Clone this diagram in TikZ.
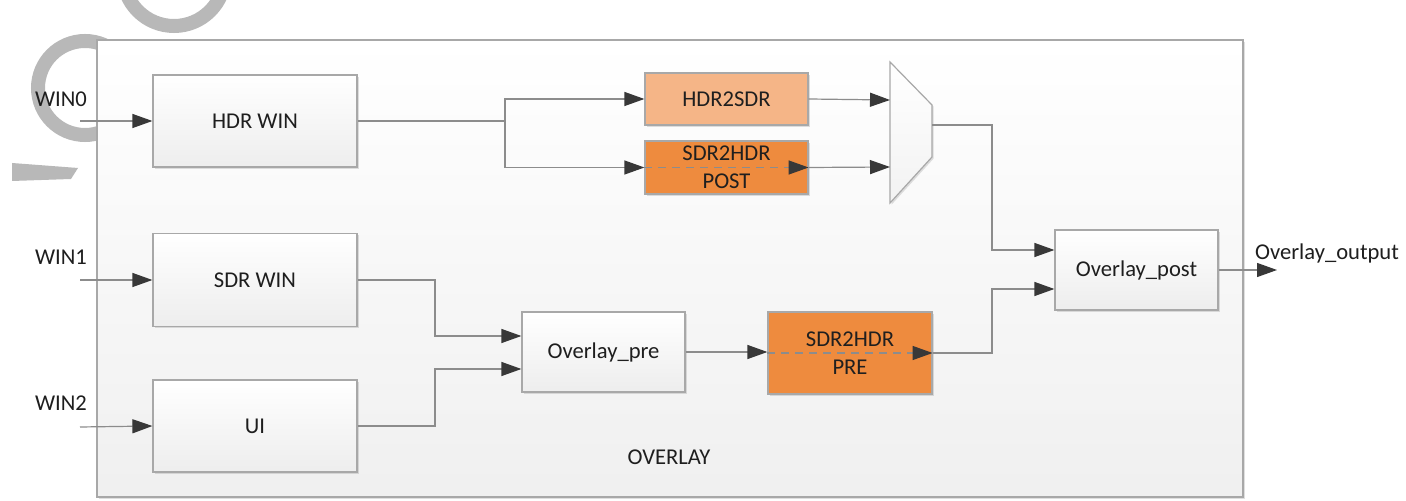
\documentclass[tikz,border=0pt]{standalone}
\usepackage{fontspec}
\setmainfont{Carlito}
\usetikzlibrary{arrows.meta,shadows,calc}
\definecolor{wirec}{HTML}{8C8C8C}
\definecolor{tipc}{HTML}{383838}
\definecolor{edgec}{HTML}{A8A8A8}
\definecolor{txtc}{HTML}{1E1E1E}
\definecolor{orLight}{HTML}{F5B587}
\definecolor{orDark}{HTML}{EE8B3E}
\definecolor{markc}{HTML}{B8B8B8}
\begin{document}
\begin{tikzpicture}[x=0.5pt,y=-0.5pt,
  font=\fontsize{11.3}{13}\selectfont,
  blockbox/.style={draw=edgec, line width=0.6pt, top color=white, bottom color=black!7,
    text=txtc, inner sep=0pt, align=center,
    drop shadow={shadow xshift=0.8pt, shadow yshift=-0.8pt, opacity=0.25}},
  hotbox/.style={blockbox, top color=#1, bottom color=#1, text=black!88},
  wire/.style={draw=wirec, line width=0.6pt},
  flow/.style={wire, -{Triangle[length=10pt,width=7pt,color=tipc]}},
  passthru/.style={flow, dash pattern=on 4pt off 3pt},
  lbl/.style={text=txtc, inner sep=0pt}]
\useasboundingbox (0,0) rectangle (1406,501);
\clip (0,0) rectangle (1406,501);
\fill[white] (0,0) rectangle (1406,501);

% faint logo strokes behind the frame
\draw[markc, line width=7pt] (85,88) circle (47);
\draw[markc, line width=7pt] (174,-25) circle (51);
\fill[markc] (12,163) -- (78,168) -- (71,179) -- (12,181) -- cycle;

% enclosing OVERLAY frame
\node[draw=edgec, line width=0.6pt, top color=white, bottom color=black!6,
  minimum width=573pt, minimum height=228.5pt, inner sep=0pt,
  drop shadow={shadow xshift=0.8pt, shadow yshift=-0.8pt, opacity=0.25}]
  (frame) at (670,268.5) {};
\node[lbl] (framename) at (669,457) {OVERLAY};

% window inputs
\node[blockbox, minimum width=102pt, minimum height=46pt] (hdr) at (255,121) {HDR WIN};
\node[blockbox, minimum width=102pt, minimum height=46.5pt] (sdr) at (255,280) {SDR WIN};
\node[blockbox, minimum width=102pt, minimum height=46pt] (ui) at (255,426) {UI};

% conversion blocks
\node[hotbox=orLight, minimum width=81.5pt, minimum height=26pt] (h2s) at (726.5,99) {HDR2SDR};
\node[hotbox=orDark, minimum width=81.5pt, minimum height=26.5pt] (post) at (726.5,167.5) {SDR2HDR\\[1pt]POST};
\node[blockbox, minimum width=81.5pt, minimum height=40pt] (opre) at (603.5,352) {Overlay\_pre};
\node[hotbox=orDark, minimum width=82pt, minimum height=41pt] (pre) at (850,353) {SDR2HDR\\[1pt]PRE};
\node[blockbox, minimum width=81.5pt, minimum height=40pt] (opost) at (1136.5,270) {Overlay\_post};

% selector
\draw[draw=edgec, line width=0.6pt, top color=white, bottom color=black!5,
  drop shadow={shadow xshift=0.8pt, shadow yshift=-0.8pt, opacity=0.25}]
  (890,62) -- (932,105) -- (932,157) -- (890,203) -- cycle;
\coordinate (muxa) at (890,100);
\coordinate (muxb) at (890,167);
\coordinate (muxo) at (932,125);

% labels and free ends
\node[lbl] (w0) at (61,99) {WIN0};
\node[lbl] (w1) at (61,257) {WIN1};
\node[lbl] (w2) at (61,403) {WIN2};
\node[lbl] (outname) at (1327,253) {Overlay\_output};
\coordinate (in0) at (80,121);
\coordinate (in1) at (80,280);
\coordinate (in2) at (80,427);
\coordinate (outend) at (1277,270);
\coordinate (split) at (505,121);
\coordinate (bendA) at (435,300);
\coordinate (bendB) at (435,400);
\coordinate (bendC) at (992,200);
\coordinate (bendD) at (992,320);

% connectors
\draw[flow] (in0) -- (hdr.west);
\draw[flow] (in1) -- (sdr.west);
\draw[flow] (in2) -- (ui.west);
\draw[wire] (hdr.east) -- (split);
\draw[flow] (split) |- (h2s.west);
\draw[flow] (split) |- (post.west);
\draw[passthru] (post.west) -- (post.east);
\draw[flow] (h2s.east) -- (muxa);
\draw[flow] (post.east) -- (muxb);
\draw[flow] (muxo) -| (bendC) |- ([yshift=10pt]opost.west);
\draw[flow] (sdr.east) -| (bendA) |- ([yshift=8pt]opre.west);
\draw[flow] (ui.east) -| (bendB) |- ([yshift=-8.5pt]opre.west);
\draw[flow] (opre.east) -- (opre.east -| pre.west);
\draw[passthru] (pre.west) -- (pre.east);
\draw[flow] (pre.east) -| (bendD) |- ([yshift=-9.5pt]opost.west);
\draw[flow] (opost.east) -- (outend);
\end{tikzpicture}
\end{document}
